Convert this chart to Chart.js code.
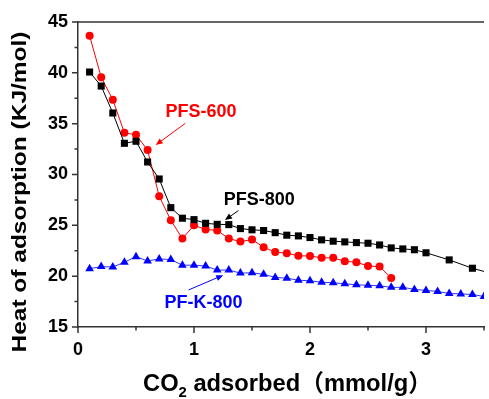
<!DOCTYPE html>
<html>
<head>
<meta charset="utf-8">
<script src="https://cdn.jsdelivr.net/npm/chart.js@4/dist/chart.umd.min.js"></script>
<style>
  html, body { margin: 0; padding: 0; background: #fff; }
  #wrap { width: 489px; height: 399px; position: relative; }
</style>
</head>
<body>
<div id="wrap"><canvas id="heatChart"></canvas></div>
<script>
// CO2 adsorbed (mmol/g) and isosteric heat (KJ/mol)
const xPFS600 = [0.1, 0.2, 0.3, 0.4, 0.5, 0.6, 0.7, 0.8, 0.9, 1.0, 1.1, 1.2, 1.3, 1.4,
  1.5, 1.6, 1.7, 1.8, 1.9, 2.0, 2.1, 2.2, 2.3, 2.4, 2.5, 2.6, 2.7];
const yPFS600 = [43.65, 39.56, 37.36, 34.1, 33.9, 32.4, 27.86, 25.5, 23.7, 25.0, 24.6, 24.5, 23.7, 23.4,
  23.6, 22.85, 22.37, 22.26, 22.0, 21.99, 21.8, 21.8, 21.47, 21.37, 21.0, 20.94, 19.83];

const xPFS800 = [0.1, 0.2, 0.3, 0.4, 0.5, 0.6, 0.7, 0.8, 0.9, 1.0, 1.1, 1.2, 1.3, 1.4, 1.5,
  1.6, 1.7, 1.8, 1.9, 2.0, 2.1, 2.2, 2.3, 2.4, 2.5, 2.6, 2.7, 2.8, 2.9, 3.0, 3.2, 3.4, 3.6];
const yPFS800 = [40.08, 38.7, 36.05, 33.07, 33.27, 31.23, 29.56, 26.74, 25.7, 25.56, 25.2, 25.1, 25.07, 24.68, 24.56,
  24.49, 24.28, 24.03, 23.96, 23.8, 23.57, 23.44, 23.37, 23.3, 23.24, 23.07, 22.78, 22.68, 22.6, 22.3, 21.6, 20.78, 20.15];

const xPFK800 = [0.1, 0.2, 0.3, 0.4, 0.5, 0.6, 0.7, 0.8, 0.9, 1.0, 1.1, 1.2, 1.3, 1.4, 1.5, 1.6, 1.7, 1.8,
  1.9, 2.0, 2.1, 2.2, 2.3, 2.4, 2.5, 2.6, 2.7, 2.8, 2.9, 3.0, 3.1, 3.2, 3.3, 3.4, 3.5];
const yPFK800 = [20.74, 20.94, 20.9, 21.37, 21.92, 21.5, 21.7, 21.63, 21.08, 21.08, 21.0, 20.6, 20.6, 20.3, 20.33, 20.18, 19.88, 19.8,
  19.6, 19.55, 19.4, 19.35, 19.25, 19.15, 19.1, 19.05, 18.9, 18.9, 18.7, 18.6, 18.5, 18.3, 18.25, 18.2, 18.0];

const xMinorTicks = [0.5, 1.5, 2.5, 3.5];
const yMinorTicks = [17.5, 22.5, 27.5, 32.5, 37.5, 42.5];

const FONT = '"Liberation Sans", Arial, "Noto Sans CJK SC", sans-serif';

function toPoints(xs, ys) {
  return xs.map((x, i) => ({ x: x, y: ys[i] }));
}

// labels with arrows, placed in data units
const notes = [
  { text: 'PFS-600', color: '#ff0000', tx: 1.06, ty: 36.15, from: [0.926, 35.04], to: [0.67, 32.9] },
  { text: 'PFS-800', color: '#000000', tx: 1.563, ty: 27.5, from: [1.383, 26.45], to: [1.267, 25.53] },
  { text: 'PF-K-800', color: '#0000ff', tx: 1.082, ty: 17.32, from: [0.954, 18.65], to: [1.252, 20.1] }
];

function arrow(ctx, x1, y1, x2, y2, color) {
  const a = Math.atan2(y2 - y1, x2 - x1);
  ctx.strokeStyle = color;
  ctx.fillStyle = color;
  ctx.lineWidth = 1;
  ctx.beginPath();
  ctx.moveTo(x1, y1);
  ctx.lineTo(x2 - 4 * Math.cos(a), y2 - 4 * Math.sin(a));
  ctx.stroke();
  ctx.beginPath();
  ctx.moveTo(x2, y2);
  ctx.lineTo(x2 - 7 * Math.cos(a) + 3 * Math.sin(a), y2 - 7 * Math.sin(a) - 3 * Math.cos(a));
  ctx.lineTo(x2 - 7 * Math.cos(a) - 3 * Math.sin(a), y2 - 7 * Math.sin(a) + 3 * Math.cos(a));
  ctx.closePath();
  ctx.fill();
}

const decorations = {
  id: 'decorations',
  afterDraw(chart) {
    const ctx = chart.ctx;
    const area = chart.chartArea;
    const xs = chart.scales.x;
    const ys = chart.scales.y;
    ctx.save();

    // top frame line
    ctx.strokeStyle = '#333';
    ctx.lineWidth = 1.5;
    ctx.beginPath();
    ctx.moveTo(area.left, area.top);
    ctx.lineTo(area.right, area.top);
    ctx.stroke();

    // tick marks, outward
    ctx.beginPath();
    xs.ticks.forEach(t => {
      const p = xs.getPixelForValue(t.value);
      ctx.moveTo(p, area.bottom); ctx.lineTo(p, area.bottom + 6);
    });
    xMinorTicks.forEach(v => {
      const p = xs.getPixelForValue(v);
      ctx.moveTo(p, area.bottom); ctx.lineTo(p, area.bottom + 3.5);
    });
    ys.ticks.forEach(t => {
      const p = ys.getPixelForValue(t.value);
      ctx.moveTo(area.left, p); ctx.lineTo(area.left - 6, p);
    });
    yMinorTicks.forEach(v => {
      const p = ys.getPixelForValue(v);
      ctx.moveTo(area.left, p); ctx.lineTo(area.left - 3.5, p);
    });
    ctx.stroke();

    // annotations
    ctx.font = 'bold 18px ' + FONT;
    ctx.textAlign = 'center';
    ctx.textBaseline = 'middle';
    notes.forEach(n => {
      ctx.fillStyle = n.color;
      ctx.fillText(n.text, xs.getPixelForValue(n.tx), ys.getPixelForValue(n.ty));
      arrow(ctx, xs.getPixelForValue(n.from[0]), ys.getPixelForValue(n.from[1]),
        xs.getPixelForValue(n.to[0]), ys.getPixelForValue(n.to[1]), n.color);
    });

    // y axis title
    ctx.fillStyle = '#000';
    ctx.font = 'bold 21px ' + FONT;
    const yTitle = 'Heat of adsorption (KJ/mol)';
    const yw = ctx.measureText(yTitle).width;
    ctx.save();
    ctx.translate(20, 192);
    ctx.rotate(-Math.PI / 2);
    ctx.scale(321 / yw, 1);
    ctx.textAlign = 'center';
    ctx.textBaseline = 'middle';
    ctx.fillText(yTitle, 0, 0);
    ctx.restore();

    // x axis title with subscript
    const big = 'bold 24px ' + FONT;
    const small = 'bold 15px ' + FONT;
    const parts = [['CO', big, 0], ['2', small, 6], [' adsorbed\uFF08mmol/g\uFF09', big, 0]];
    let total = 0;
    parts.forEach(p => { ctx.font = p[1]; p.push(ctx.measureText(p[0]).width); total += p[3]; });
    ctx.save();
    ctx.translate(143, 391);
    ctx.scale(289 / total, 1);
    ctx.textAlign = 'left';
    ctx.textBaseline = 'alphabetic';
    let cx = 0;
    parts.forEach(p => {
      ctx.font = p[1];
      ctx.fillText(p[0], cx, p[2]);
      cx += p[3];
    });
    ctx.restore();

    ctx.restore();
  }
};

const ctx = document.getElementById('heatChart').getContext('2d');

const config = {
  type: 'line',
  data: {
    datasets: [
      {
        label: 'PFS-800',
        data: toPoints(xPFS800, yPFS800),
        borderColor: '#000000',
        backgroundColor: '#000000',
        borderWidth: 1,
        pointStyle: 'rect',
        pointRadius: 5,
        pointBorderWidth: 0
      },
      {
        label: 'PF-K-800',
        data: toPoints(xPFK800, yPFK800),
        borderColor: '#3333ff',
        backgroundColor: '#0000ff',
        borderWidth: 1,
        pointStyle: 'triangle',
        pointRadius: 5,
        pointBorderWidth: 0
      },
      {
        label: 'PFS-600',
        data: toPoints(xPFS600, yPFS600),
        borderColor: '#ff0000',
        backgroundColor: '#ff0000',
        borderWidth: 1,
        pointStyle: 'circle',
        pointRadius: 4,
        pointBorderWidth: 0
      }
    ]
  },
  options: {
    responsive: true,
    maintainAspectRatio: false,
    animation: false,
    events: [],
    layout: { padding: { top: 22, right: 0, left: 0, bottom: 0 } },
    plugins: {
      legend: { display: false },
      tooltip: { enabled: false }
    },
    scales: {
      x: {
        type: 'linear',
        min: 0,
        max: 3.5,
        afterFit: s => { s.height = 72; },
        afterBuildTicks: s => { s.ticks = s.ticks.filter(t => Number.isInteger(t.value)); },
        ticks: {
          stepSize: 1,
          padding: 12,
          color: '#000',
          maxRotation: 0,
          font: { family: FONT, size: 18, weight: 'bold' }
        },
        grid: { display: true, drawOnChartArea: false, drawTicks: false },
        border: { display: true, color: '#333', width: 1.5 }
      },
      y: {
        min: 15,
        max: 45,
        afterFit: s => { s.width = 78; },
        ticks: {
          stepSize: 5,
          padding: 10,
          color: '#000',
          font: { family: FONT, size: 18, weight: 'bold' }
        },
        grid: { display: true, drawOnChartArea: false, drawTicks: false },
        border: { display: true, color: '#333', width: 1.5 }
      }
    }
  },
  plugins: [decorations]
};

const heatChart = new Chart(ctx, config);
</script>
</body>
</html>
